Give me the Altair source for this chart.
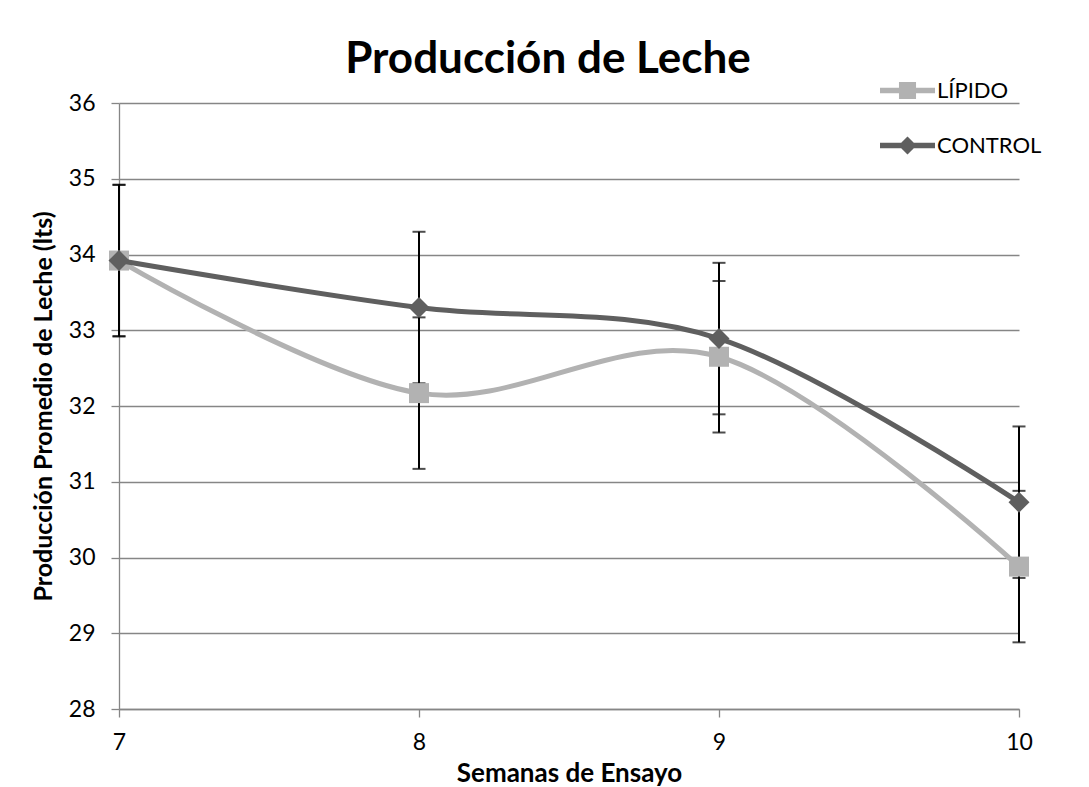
import altair as alt
import pandas as pd

semanas = [7, 8, 9, 10]
lipido = [33.92, 32.17, 32.65, 29.88]
control = [33.92, 33.30, 32.89, 30.73]
err_lipido = [1.0, 1.0, 1.0, 1.0]
err_control = [1.0, 1.0, 1.0, 1.0]
series = ["LÍPIDO", "CONTROL"]
colors = ["#B2B2B2", "#5F5F5F"]
y_ticks = [28, 29, 30, 31, 32, 33, 34, 35, 36]

rows = []
for s, vals, errs in [(series[0], lipido, err_lipido), (series[1], control, err_control)]:
    for x, v, e in zip(semanas, vals, errs):
        rows.append({"serie": s, "semana": x, "valor": v, "lo": v - e, "hi": v + e})
df = pd.DataFrame(rows)

FONT = "Lato"
W, H = 900, 606

xs = alt.Scale(domain=[7, 10], nice=False, zero=False)
ys = alt.Scale(domain=[28, 36], nice=False, zero=False)

base = alt.Chart(df)

x_enc = alt.X("semana:Q", scale=xs, axis=alt.Axis(
    values=semanas, grid=False, title="Semanas de Ensayo", format="d", labelFlush=False,
    titleX=W / 2, titleY=64, titleBaseline="middle", titleAlign="center"))
y_enc = alt.Y("valor:Q", scale=ys, axis=alt.Axis(
    values=y_ticks, grid=True, title="Producción Promedio de Leche (lts)", format="d",
    labelFlush=False,
    titleX=-76, titleY=H / 2, titleAngle=270, titleBaseline="middle", titleAlign="center"))

err_rule = base.mark_rule(color="black", strokeWidth=2).encode(
    x="semana:Q", y="lo:Q", y2="hi:Q")
err_lo = base.mark_tick(color="black", thickness=2, size=13, orient="horizontal").encode(
    x="semana:Q", y="lo:Q")
err_hi = base.mark_tick(color="black", thickness=2, size=13, orient="horizontal").encode(
    x="semana:Q", y="hi:Q")

def line_layer(name, color):
    return base.transform_filter(alt.datum.serie == name).mark_line(
        color=color, strokeWidth=5, interpolate="cardinal").encode(x=x_enc, y=y_enc)

lip_line = line_layer(series[0], colors[0])
ctl_line = line_layer(series[1], colors[1])
lip_pts = base.transform_filter(alt.datum.serie == series[0]).mark_point(
    shape="square", filled=True, size=400, color=colors[0], opacity=1).encode(x="semana:Q", y="valor:Q")
ctl_pts = base.transform_filter(alt.datum.serie == series[1]).mark_point(
    shape="diamond", filled=True, size=440, color=colors[1], opacity=1).encode(x="semana:Q", y="valor:Q")

sq_path = "M-1,-0.1 L1,-0.1 L1,0.1 L-1,0.1 Z M-0.31,-0.31 L0.31,-0.31 L0.31,0.31 L-0.31,0.31 Z"
dm_path = "M-1,-0.1 L1,-0.1 L1,0.1 L-1,0.1 Z M0,-0.33 L0.33,0 L0,0.33 L-0.33,0 Z"

legend_layer = base.transform_filter("false").mark_point(filled=True, opacity=1).encode(
    x="semana:Q", y="valor:Q",
    color=alt.Color("serie:N", scale=alt.Scale(domain=series, range=colors),
                    legend=alt.Legend(title=None, orient="none", legendX=761, legendY=-40,
                                      symbolSize=3025, symbolOpacity=1, symbolStrokeWidth=0,
                                      labelFont=FONT, labelFontSize=22, labelColor="black",
                                      labelOffset=2, rowPadding=16)),
    shape=alt.Shape("serie:N", scale=alt.Scale(domain=series, range=[sq_path, dm_path])),
)

chart = alt.layer(err_rule, err_lo, err_hi, lip_line, lip_pts, ctl_line, ctl_pts, legend_layer).properties(
    width=W, height=H,
    title=alt.TitleParams("Producción de Leche", font=FONT, fontSize=44, fontWeight="bold",
                          color="black", anchor="middle", dx=-21, offset=-19),
    autosize=alt.AutoSizeParams(type="none"),
    padding={"left": 111, "top": 95, "right": 50, "bottom": 78},
).configure_view(stroke=None).configure_axis(
    labelFont=FONT, labelFontSize=23, labelColor="black",
    titleFont=FONT, titleFontSize=25, titleFontWeight="bold", titleColor="black",
    gridColor="#868686", gridWidth=1.3, domainColor="#868686", domainWidth=1.3,
    tickColor="#868686", tickWidth=1.3, tickSize=8, labelPadding=14,
).configure_axisX(titleFontSize=26).configure_axisY(labelPadding=16)

chart.save("out.html", embed_options={"renderer": "svg", "actions": False})
